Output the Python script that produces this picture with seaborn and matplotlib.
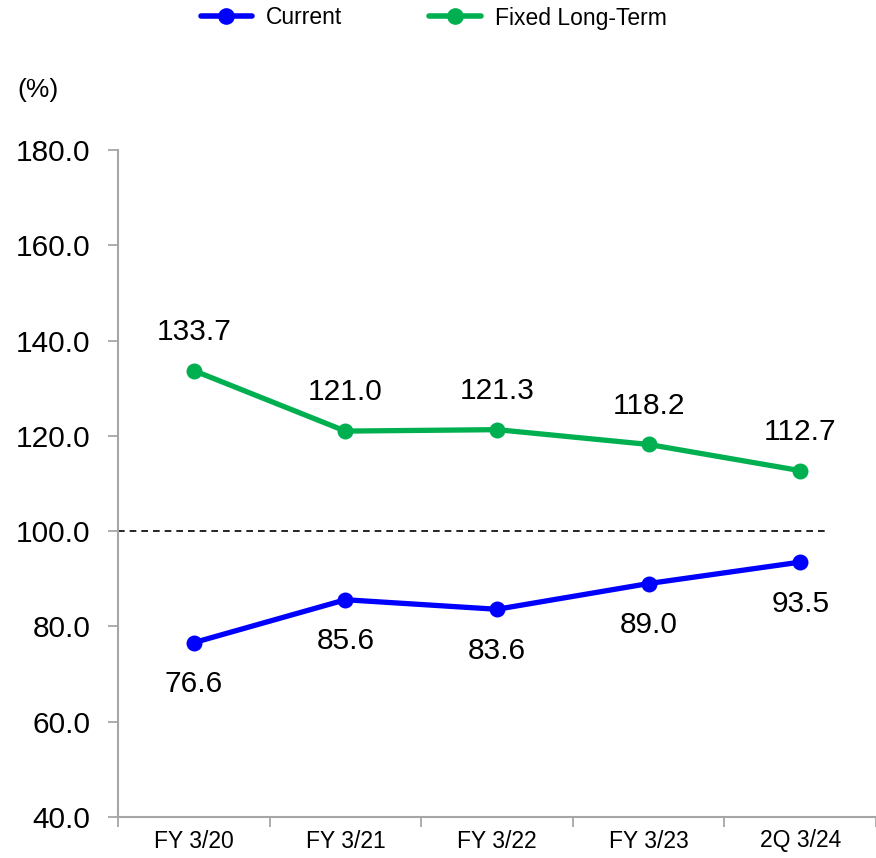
import matplotlib
matplotlib.use("Agg")
import matplotlib.pyplot as plt
import seaborn as sns
import pandas as pd
from matplotlib.lines import Line2D

periods = ["FY 3/20", "FY 3/21", "FY 3/22", "FY 3/23", "2Q 3/24"]
current = [76.6, 85.6, 83.6, 89.0, 93.5]
fixed_long_term = [133.7, 121.0, 121.3, 118.2, 112.7]
series_names = ["Current", "Fixed Long-Term"]
colors = {"Current": "#0000FF", "Fixed Long-Term": "#00B050"}
y_ticks = [40, 60, 80, 100, 120, 140, 160, 180]

sns.set_theme(style="white")
plt.rcParams["font.family"] = ["Liberation Sans", "DejaVu Sans"]
plt.rcParams["text.color"] = "black"
plt.rcParams["xtick.labelcolor"] = "black"
plt.rcParams["ytick.labelcolor"] = "black"

df = pd.DataFrame({
    "period": periods * 2,
    "x": list(range(len(periods))) * 2,
    "ratio": current + fixed_long_term,
    "series": [series_names[0]] * len(periods) + [series_names[1]] * len(periods),
})

fig = plt.figure(figsize=(8.76, 8.58), dpi=100)
ax = fig.add_axes([118 / 876, 1 - 817 / 858, 1 - 118 / 876, (817 - 150) / 858])

sns.lineplot(data=df, x="x", y="ratio", hue="series", palette=colors,
             hue_order=series_names, marker="o", markersize=11.5,
             markeredgewidth=0, linewidth=3.8, legend=False, ax=ax, zorder=3)

# 100% reference line
ax.plot([-0.5, 4.18], [100, 100], color="black", linestyle=(0, (4, 3)),
        linewidth=1.2, zorder=2)

# value labels: fixed long-term above, current below
for i, v in enumerate(fixed_long_term):
    ax.annotate(f"{v:.1f}", (i, v), xytext=(0, 28), textcoords="offset points",
                ha="center", va="center", fontsize=21.5, color="black")
for i, v in enumerate(current):
    ax.annotate(f"{v:.1f}", (i, v), xytext=(0, -30), textcoords="offset points",
                ha="center", va="center", fontsize=21.5, color="black")

ax.set_xlim(-0.5, len(periods) - 0.5)
ax.set_ylim(40, 180)
ax.set_yticks(y_ticks)
ax.set_yticklabels([f"{t:.1f}" for t in y_ticks], fontsize=21.5)
ax.set_xticks(range(len(periods)))
ax.set_xticklabels(periods, fontsize=16.5)
ax.set_xticks([i - 0.5 for i in range(len(periods) + 1)], minor=True)
ax.tick_params(axis="x", which="major", length=0, pad=9)
ax.tick_params(axis="x", which="minor", length=7, width=1.3, color="#A6A6A6",
               direction="out", bottom=True)
ax.tick_params(axis="y", length=7, width=1.3, color="#A6A6A6", direction="out",
               left=True, pad=13)
ax.set_xlabel("")
ax.set_ylabel("")

for side in ["top", "right"]:
    ax.spines[side].set_visible(False)
for side in ["left", "bottom"]:
    ax.spines[side].set_color("#A6A6A6")
    ax.spines[side].set_linewidth(1.5)

fig.text(17 / 876, 1 - 90 / 858, "(%)", fontsize=19, ha="left", va="center")

handles = [Line2D([0], [0], color=colors[n], marker="o", markersize=12,
                  markeredgewidth=0, linewidth=4) for n in series_names]
fig.legend(handles, series_names, loc="center", bbox_to_anchor=(0.495, 1 - 18 / 858),
           ncol=2, frameon=False, fontsize=16.5, handlelength=2.25,
           columnspacing=3.8, handletextpad=0.6)

fig.savefig("out.png", dpi=100)
